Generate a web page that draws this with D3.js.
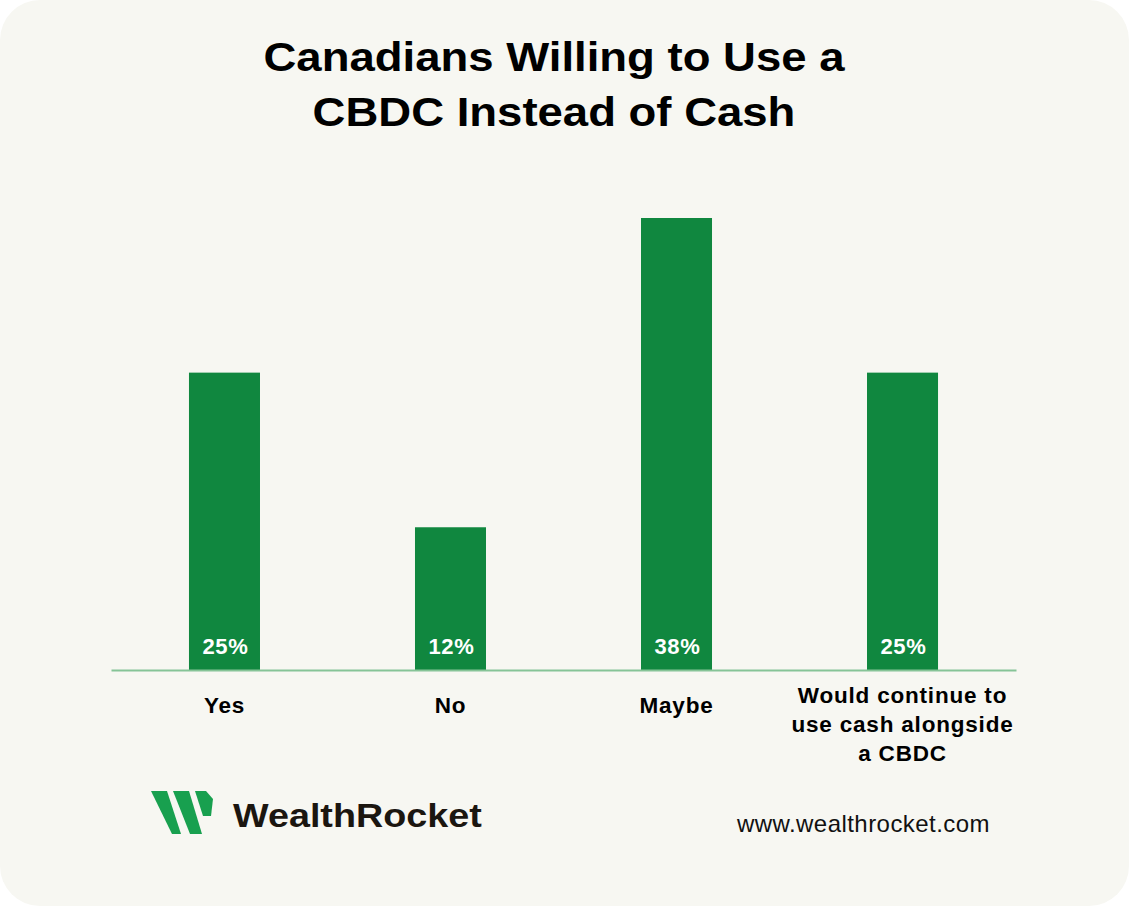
<!DOCTYPE html>
<html>
<head>
<meta charset="utf-8">
<script src="https://cdn.jsdelivr.net/npm/d3@7"></script>
<style>
  html, body { margin: 0; padding: 0; background: #ffffff; }
  svg { display: block; }
</style>
</head>
<body>
<svg id="chart" width="1129" height="906"></svg>
<script>
const titleLines = ["Canadians Willing to Use a", "CBDC Instead of Cash"];
const categories = ["Yes", "No", "Maybe", "Would continue to use cash alongside a CBDC"];
const categoryLines = [["Yes"], ["No"], ["Maybe"], ["Would continue to", "use cash alongside", "a CBDC"]];
const values = [25, 12, 38, 25];
const valueLabels = ["25%", "12%", "38%", "25%"];
const brandName = "WealthRocket";
const website = "www.wealthrocket.com";

const svg = d3.select("#chart");
const W = 1129, H = 906;

// card background
svg.append("rect").attr("x", 0).attr("y", 0).attr("width", W).attr("height", H)
  .attr("rx", 40).attr("ry", 40).attr("fill", "#f7f7f2");

// title
const title = svg.append("g");
titleLines.forEach((t, i) => {
  title.append("text")
    .attr("transform", `translate(554,${71 + i * 54.5}) scale(1.11,1)`)
    .attr("text-anchor", "middle")
    .attr("font-family", "Liberation Sans, Arial, Helvetica, sans-serif")
    .attr("font-weight", "bold")
    .attr("font-size", 41)
    .attr("fill", "#000")
    .text(t);
});

// scales
const x = d3.scaleBand().domain(categories).range([111, 1016])
  .paddingInner(0.6858).paddingOuter(0.345);
const y = d3.scaleLinear().domain([0, 38]).range([670, 218]);

// bars
svg.append("g").selectAll("rect").data(values).join("rect")
  .attr("x", (d, i) => x(categories[i]))
  .attr("y", d => y(d))
  .attr("width", x.bandwidth())
  .attr("height", d => y(0) - y(d))
  .attr("fill", "#10873f");

// value labels
svg.append("g").selectAll("text").data(values).join("text")
  .attr("x", (d, i) => x(categories[i]) + x.bandwidth() / 2 + 1)
  .attr("y", y(0) - 16)
  .attr("text-anchor", "middle")
  .attr("font-family", "Liberation Sans, Arial, Helvetica, sans-serif")
  .attr("font-weight", "bold")
  .attr("font-size", 22)
  .attr("letter-spacing", 0.7)
  .attr("fill", "#ffffff")
  .text((d, i) => valueLabels[i]);

// axis line
const axis = svg.append("g").attr("transform", `translate(0,${y(0)})`)
  .call(d3.axisBottom(x).tickSize(0).tickSizeOuter(0).tickFormat(""));
axis.select(".domain").attr("stroke", "#86c497").attr("stroke-width", 2);

// category labels
const cat = svg.append("g");
categoryLines.forEach((lines, i) => {
  const cx = x(categories[i]) + x.bandwidth() / 2;
  const base = lines.length === 1 ? 713 : 703;
  const t = cat.append("text")
    .attr("text-anchor", "middle")
    .attr("font-family", "Liberation Sans, Arial, Helvetica, sans-serif")
    .attr("font-weight", "bold")
    .attr("font-size", 22.5)
    .attr("letter-spacing", 0.8)
    .attr("fill", "#000");
  lines.forEach((l, j) => {
    t.append("tspan").attr("x", cx).attr("y", base + j * 29).text(l);
  });
});

// logo
const logo = svg.append("g");
const stripes = [
  [[151, 791], [167, 791], [181, 834], [172, 834]],
  [[173, 791], [189, 791], [202, 834], [190, 834]],
  [[195, 791], [206, 791], [213, 799], [211, 816], [203, 816]]
];
logo.selectAll("path").data(stripes).join("path")
  .attr("d", d => d3.line()(d) + "Z")
  .attr("fill", "#18a04f");
logo.append("text")
  .attr("transform", "translate(233,827) scale(1.11,1)")
  .attr("font-family", "Liberation Sans, Arial, Helvetica, sans-serif")
  .attr("font-weight", "bold")
  .attr("font-size", 34)
  .attr("fill", "#1b1610")
  .text(brandName);

// website
svg.append("text")
  .attr("x", 990).attr("y", 832)
  .attr("text-anchor", "end")
  .attr("font-family", "Liberation Sans, Arial, Helvetica, sans-serif")
  .attr("font-size", 24)
  .attr("letter-spacing", 0.45)
  .attr("fill", "#111")
  .text(website);
</script>
</body>
</html>
